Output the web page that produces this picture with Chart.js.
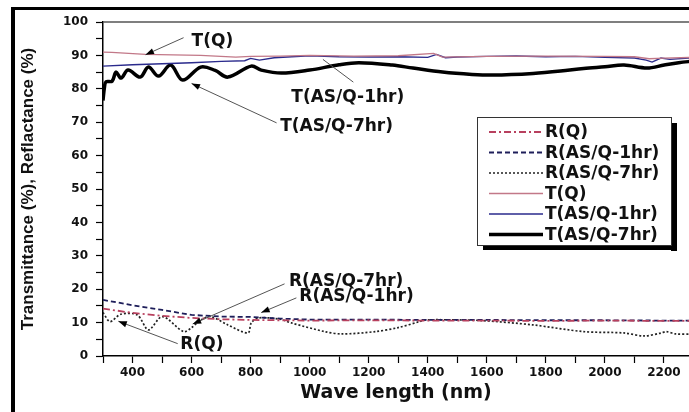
<!DOCTYPE html>
<html lang="en">
<head>
<meta charset="UTF-8">
<title>Transmittance / Reflactance</title>
<script src="https://cdn.jsdelivr.net/npm/chart.js@4.4.0/dist/chart.umd.min.js"></script>
<style>
  html, body { margin: 0; padding: 0; background: #fff; }
</style>
</head>
<body>
<canvas id="spec" width="689" height="412"></canvas>
<script>
// series (wavelength in nm, value in %)
const tqNm  = [300, 330, 444, 631, 750, 800, 900, 1000, 1150, 1300, 1420, 1450, 1600, 1800, 2000, 2100, 2150, 2200, 2300];
const tqVal = [91.0, 90.9, 90.3, 90.0, 89.5, 89.7, 89.8, 90.0, 89.8, 89.9, 90.6, 89.5, 89.7, 89.8, 89.7, 89.6, 89.0, 89.2, 89.4];

const t1Nm  = [300, 400, 500, 600, 700, 780, 800, 830, 880, 940, 1000, 1100, 1200, 1300, 1400, 1430, 1460, 1500, 1600, 1700, 1800, 1900, 2000, 2100, 2140, 2160, 2190, 2220, 2300];
const t1Val = [86.8, 87.2, 87.5, 87.8, 88.2, 88.4, 89.1, 88.6, 89.3, 89.6, 89.9, 89.6, 89.5, 89.6, 89.4, 90.3, 89.3, 89.5, 89.7, 89.8, 89.6, 89.7, 89.4, 89.2, 88.6, 88.0, 89.2, 88.8, 89.3];

const t7Nm  = [300, 305, 310, 331, 344, 361, 385, 426, 454, 488, 529, 570, 631, 680, 723, 802, 836, 904, 1000, 1100, 1167, 1280, 1350, 1450, 1550, 1621, 1757, 1850, 1928, 2000, 2065, 2143, 2201, 2250, 2300];
const t7Val = [76.5, 80.5, 82.1, 82.3, 85.0, 83.2, 85.6, 83.5, 86.5, 83.8, 87.1, 82.6, 86.5, 85.5, 83.5, 86.8, 85.6, 84.7, 85.6, 87.2, 87.8, 87.1, 86.2, 85.0, 84.3, 84.1, 84.6, 85.3, 86.1, 86.6, 87.1, 86.2, 87.1, 87.8, 88.3];

const rqNm  = [300, 400, 500, 600, 700, 800, 1000, 1200, 1400, 1600, 1800, 2000, 2200, 2300];
const rqVal = [14.2, 12.9, 12.0, 11.4, 11.0, 10.8, 10.6, 10.7, 10.6, 10.6, 10.5, 10.6, 10.5, 10.5];

const r1Nm  = [300, 400, 500, 600, 700, 800, 900, 1000, 1200, 1400, 1600, 1800, 2000, 2200, 2300];
const r1Val = [16.8, 15.2, 13.8, 12.3, 11.8, 11.7, 11.2, 10.9, 10.9, 10.8, 10.8, 10.7, 10.7, 10.6, 10.6];

const r7Nm  = [300, 324, 360, 416, 454, 501, 573, 600, 631, 665, 723, 791, 802, 826, 900, 938, 1051, 1109, 1222, 1300, 1372, 1392, 1500, 1587, 1757, 1928, 2065, 2133, 2191, 2208, 2240, 2300];
const r7Val = [13.0, 10.3, 12.5, 12.3, 7.8, 11.8, 7.3, 8.5, 10.8, 11.8, 9.3, 6.9, 9.9, 11.4, 11.0, 9.9, 7.3, 6.6, 7.3, 8.5, 10.3, 10.8, 10.8, 10.6, 9.3, 7.3, 6.9, 6.0, 6.9, 7.3, 6.6, 6.6];

const seriesNames = ['R(Q)', 'R(AS/Q-1hr)', 'R(AS/Q-7hr)', 'T(Q)', 'T(AS/Q-1hr)', 'T(AS/Q-7hr)'];

// tick marks on the wavelength axis (labels on every other one)
const xTickNm = [300, 400, 500, 600, 700, 800, 900, 1000, 1100, 1200, 1300, 1400, 1500, 1600, 1700, 1800, 1900, 2000, 2100, 2200];

// callouts in data units: label left/middle, leader line from -> to
const notes = [
  {text: 'T(Q)',        at: [600, 94.0],  from: [573, 95.3], to: [444, 90.2], arrow: true},
  {text: 'T(AS/Q-1hr)', at: [938, 77.5],  from: [1045, 88.8], to: [1148, 82.0], arrow: false},
  {text: 'T(AS/Q-7hr)', at: [900, 68.6],  from: [888, 69.8], to: [600, 81.6], arrow: true},
  {text: 'R(AS/Q-7hr)', at: [930, 22.2],  from: [915, 21.6], to: [604, 9.6], arrow: true},
  {text: 'R(AS/Q-1hr)', at: [965, 17.7],  from: [955, 17.4], to: [836, 13.0], arrow: true},
  {text: 'R(Q)',        at: [562, 3.3],   from: [553, 3.7],  to: [352, 10.4], arrow: true}
];

function pts(xs, ys) {
  return xs.map(function(x, i) { return {x: x, y: ys[i]}; });
}

const labelFont = 'bold 17px "DejaVu Sans"';

// outer frame of the figure plus the top edge of the plot box
const framePlugin = {
  id: 'frame',
  beforeDraw(chart) {
    const ctx = chart.ctx;
    ctx.save();
    ctx.fillStyle = '#fff';
    ctx.fillRect(0, 0, chart.width, chart.height);
    ctx.fillStyle = '#000';
    ctx.fillRect(11, 7, 4, chart.height - 7);
    ctx.fillRect(11, 7, chart.width - 11, 3);
    ctx.restore();
  },
  beforeDatasetsDraw(chart) {
    const a = chart.chartArea, ctx = chart.ctx;
    ctx.save();
    ctx.strokeStyle = '#555';
    ctx.lineWidth = 1.5;
    ctx.beginPath();
    ctx.moveTo(a.left, a.top);
    ctx.lineTo(a.right, a.top);
    ctx.stroke();
    ctx.restore();
  }
};

// callout labels with leader lines
const notesPlugin = {
  id: 'notes',
  afterDatasetsDraw(chart) {
    const ctx = chart.ctx, xs = chart.scales.x, ys = chart.scales.y;
    ctx.save();
    notes.forEach(function(n) {
      const x1 = xs.getPixelForValue(n.from[0]), y1 = ys.getPixelForValue(n.from[1]);
      const x2 = xs.getPixelForValue(n.to[0]), y2 = ys.getPixelForValue(n.to[1]);
      ctx.strokeStyle = '#555';
      ctx.lineWidth = 1;
      ctx.beginPath();
      ctx.moveTo(x1, y1);
      ctx.lineTo(x2, y2);
      ctx.stroke();
      if (n.arrow) {
        const ang = Math.atan2(y2 - y1, x2 - x1);
        ctx.fillStyle = '#000';
        ctx.beginPath();
        ctx.moveTo(x2, y2);
        ctx.lineTo(x2 - 9 * Math.cos(ang - 0.35), y2 - 9 * Math.sin(ang - 0.35));
        ctx.lineTo(x2 - 9 * Math.cos(ang + 0.35), y2 - 9 * Math.sin(ang + 0.35));
        ctx.closePath();
        ctx.fill();
      }
      ctx.fillStyle = '#111';
      ctx.font = labelFont;
      ctx.textAlign = 'left';
      ctx.textBaseline = 'middle';
      ctx.fillText(n.text, xs.getPixelForValue(n.at[0]), ys.getPixelForValue(n.at[1]));
    });
    ctx.restore();
  }
};

// boxed legend with a drop shadow, placed inside the plot area
const legendPlugin = {
  id: 'boxLegend',
  afterDatasetsDraw(chart) {
    const ctx = chart.ctx, a = chart.chartArea;
    const left = a.left + 374, top = a.top + 95, w = 194, h = 128, rowH = 20.5;
    ctx.save();
    ctx.fillStyle = '#000';
    ctx.fillRect(left + w, top + 6, 6, h);
    ctx.fillRect(left + 6, top + h, w, 5);
    ctx.fillStyle = '#fff';
    ctx.fillRect(left, top, w, h);
    ctx.strokeStyle = '#333';
    ctx.lineWidth = 1;
    ctx.strokeRect(left + 0.5, top + 0.5, w, h);
    chart.data.datasets.forEach(function(ds, i) {
      const y = top + 15 + i * rowH;
      ctx.strokeStyle = ds.borderColor;
      ctx.lineWidth = ds.borderWidth;
      ctx.setLineDash(ds.borderDash || []);
      ctx.beginPath();
      ctx.moveTo(left + 12, y);
      ctx.lineTo(left + 66, y);
      ctx.stroke();
      ctx.setLineDash([]);
      ctx.fillStyle = '#111';
      ctx.font = labelFont;
      ctx.textAlign = 'left';
      ctx.textBaseline = 'middle';
      ctx.fillText(ds.label, left + 68, y + 1);
    });
    ctx.restore();
  }
};

const tickFont = {family: 'DejaVu Sans', weight: 'bold', size: 12};

new Chart(document.getElementById('spec'), {
  type: 'line',
  data: {
    datasets: [
      {label: seriesNames[0], data: pts(rqNm, rqVal), borderColor: '#b8405e', borderWidth: 1.8, borderDash: [7, 3, 2, 3]},
      {label: seriesNames[1], data: pts(r1Nm, r1Val), borderColor: '#1e1e5a', borderWidth: 1.8, borderDash: [5, 3]},
      {label: seriesNames[2], data: pts(r7Nm, r7Val), borderColor: '#222', borderWidth: 1.7, borderDash: [2, 2], tension: 0.3},
      {label: seriesNames[3], data: pts(tqNm, tqVal), borderColor: '#c27888', borderWidth: 1.3},
      {label: seriesNames[4], data: pts(t1Nm, t1Val), borderColor: '#2a2a8c', borderWidth: 1.4},
      {label: seriesNames[5], data: pts(t7Nm, t7Val), borderColor: '#000', borderWidth: 3.5, tension: 0.35}
    ]
  },
  options: {
    responsive: false,
    animation: false,
    devicePixelRatio: 1,
    layout: {padding: {top: 22, right: 0, bottom: 0, left: 0}},
    elements: {point: {radius: 0}, line: {borderCapStyle: 'butt'}},
    plugins: {legend: {display: false}, tooltip: {enabled: false}},
    scales: {
      x: {
        type: 'linear',
        min: 300,
        max: 2285,
        afterBuildTicks: function(s) { s.ticks = xTickNm.map(function(v) { return {value: v}; }); },
        afterFit: function(s) { s.height = 56; },
        border: {color: '#000', width: 1.5},
        grid: {drawOnChartArea: false, tickLength: 7, tickColor: '#000', tickWidth: 1.2},
        ticks: {
          autoSkip: false, maxRotation: 0, padding: 3,
          color: '#111', font: tickFont,
          callback: function(v) { return v % 200 === 0 ? String(v) : ''; }
        },
        title: {
          display: true, text: 'Wave length (nm)', color: '#111',
          font: {family: 'DejaVu Sans', weight: 'bold', size: 19},
          padding: {top: 0, bottom: 8}
        }
      },
      y: {
        min: 0,
        max: 100,
        afterFit: function(s) { s.width = 103; },
        border: {color: '#000', width: 1.5},
        grid: {drawOnChartArea: false, tickLength: 7, tickColor: '#000', tickWidth: 1.2},
        ticks: {
          stepSize: 5, autoSkip: false, padding: 8,
          color: '#111', font: tickFont,
          callback: function(v) { return v % 10 === 0 ? String(v) : ''; }
        },
        title: {
          display: true, text: 'Transmittance (%), Reflactance (%)', color: '#111',
          font: {family: 'Liberation Sans', weight: 'bold', size: 17},
          padding: {top: 18, bottom: 0}
        }
      }
    }
  },
  plugins: [framePlugin, notesPlugin, legendPlugin]
});
</script>
</body>
</html>
